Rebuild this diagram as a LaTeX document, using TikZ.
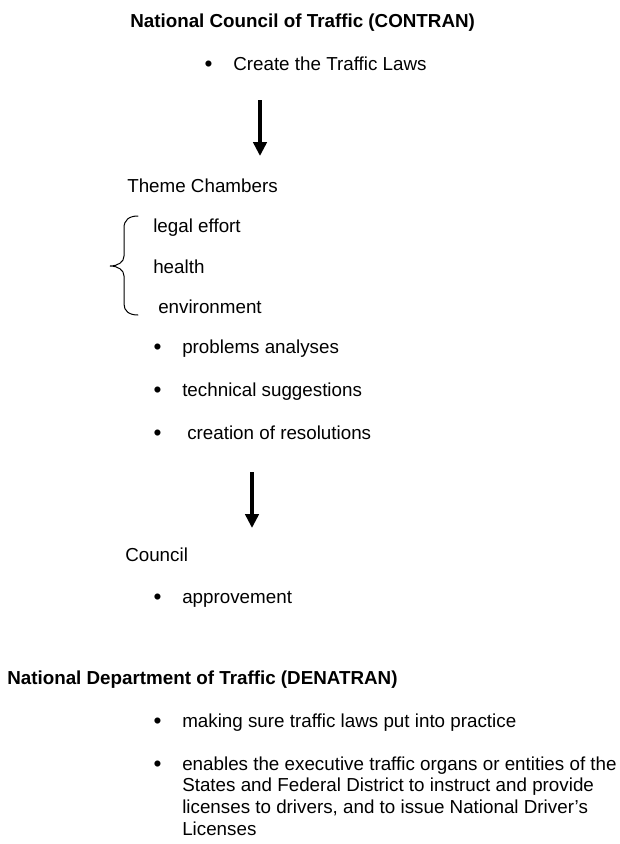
\documentclass[tikz,border=0pt]{standalone}
\usepackage{graphicx}
\usepackage{fontspec}
\setmainfont{Liberation Sans}
\usetikzlibrary{arrows.meta}

% bullet hung to the left of an item
\newcommand\bul[1][15.6pt]{\llap{\raisebox{-1pt}{\scalebox{1.2}{\textbullet}}\hspace{#1}}}

\begin{document}
\begin{tikzpicture}[x=0.75pt, y=-0.75pt,
    every node/.style={inner sep=0pt, anchor=base west, font=\fontsize{14.1}{16.2}\selectfont},
    head/.style={font=\fontsize{14.1}{16.2}\selectfont\bfseries},
    bigarrow/.style={line width=3pt, -{Triangle[width=10pt,length=10.5pt]}},
    brace/.style={line width=0.75pt, line cap=round}]
  \useasboundingbox (0,0) rectangle (620,844);

  % CONTRAN
  \node[head] (contran) at (130,27) {National Council of Traffic (CONTRAN)};
  \node (laws) at (233,70) {\bul Create the Traffic Laws};
  \coordinate (a1s) at (260,100); \coordinate (a1e) at (260,156);
  \draw[bigarrow] (a1s) -- (a1e);

  % chambers
  \node (chambers) at (127,192) {Theme Chambers};
  \node (effort)   at (153,232) {legal effort};
  \node (health)   at (153,273) {health};
  \node (environ)  at (158,313) {environment};
  \draw[brace] (138,216) .. controls (129,216) and (124,220) .. (124,228)
    -- (124,256) .. controls (124,262) and (118,266) .. (110,266)
    .. controls (118,266) and (124,270) .. (124,276)
    -- (124,304) .. controls (124,311) and (129,315) .. (138,315);
  \node (analyses) at (182,353) {\bul problems analyses};
  \node (suggest)  at (182,396) {\bul technical suggestions};
  \node (resol)    at (182,439) {\bul\hspace{3.75pt}creation of resolutions};
  \coordinate (a2s) at (252,472); \coordinate (a2e) at (252,528);
  \draw[bigarrow] (a2s) -- (a2e);

  % council
  \node (council) at (125,561) {Council};
  \node (approve) at (182,603) {\bul approvement};

  % DENATRAN (base of a multi-line node is its last line)
  \node[head] (denatran) at (7,684) {National Department of Traffic (DENATRAN)};
  \node (practice) at (182,727) {\bul making sure traffic laws put into practice};
  \node[align=left] (licenses) at (182,835)
    {\bul enables the executive traffic organs or entities of the\\
     States and Federal District to instruct and provide\\
     licenses to drivers, and to issue National Driver’s\\
     Licenses};
\end{tikzpicture}
\end{document}
